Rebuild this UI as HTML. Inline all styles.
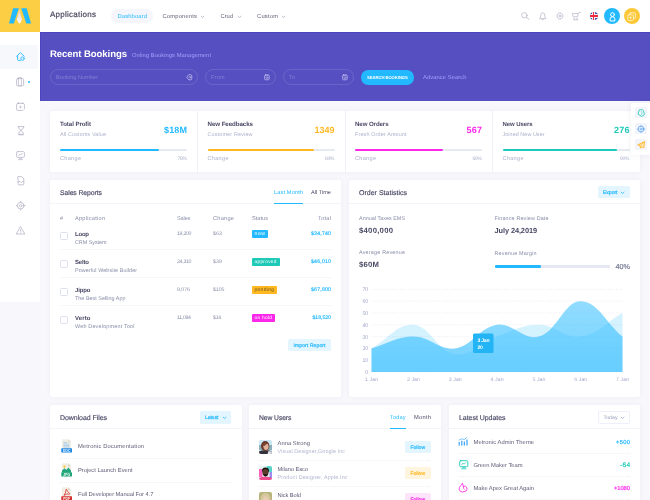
<!DOCTYPE html>
<html><head><meta charset="utf-8">
<style>
*{box-sizing:border-box;margin:0;padding:0}
html,body{width:650px;height:500px;overflow:hidden}
body{background:#f7f7fc;font-family:"Liberation Sans",sans-serif;color:#48465b;position:relative;font-size:6px}
.a{position:absolute}
.t{position:absolute;white-space:nowrap;text-rendering:geometricPrecision}
.card{position:absolute;background:#fff;border-radius:2px;box-shadow:0 0 5px rgba(82,63,105,.05)}
.hr{position:absolute;height:1px;background:#f3f4f9}
.dh{position:absolute;height:1px;background:repeating-linear-gradient(90deg,#edeff6 0 1px,transparent 1px 2px)}
.inp{position:absolute;height:16px;border:1px solid rgba(255,255,255,.12);border-radius:8px}
.bar{position:absolute;height:2.6px;border-radius:1.3px;background:#e6e8f2}
.bar i{position:absolute;left:0;top:0;height:100%;border-radius:1.3px}
.cb{position:absolute;width:7.5px;height:7.5px;border:1px solid #dfe2ee;border-radius:1.5px;background:#fff}
.bd{position:absolute;height:7.5px;border-radius:1px}
.btn{position:absolute;border-radius:1.5px}
svg{position:absolute;overflow:visible}
</style></head><body>
<!-- header -->
<div class="a" style="left:40px;top:0;width:610px;height:32px;background:#fff"></div>
<div class="a" style="left:0;top:0;width:40px;height:32px;background:#fbce44"></div>
<svg style="left:8px;top:8px" width="24" height="16" viewBox="0 0 24 16"><defs><linearGradient id="lg" x1="0" y1="0" x2="0" y2="1"><stop offset="0" stop-color="#f3cfc0"/><stop offset="0.6" stop-color="#ece8f6"/><stop offset="1" stop-color="#fdfdff"/></linearGradient></defs><polygon points="5.1,0.3 10.9,0.3 5.8,15.4 1,15.4" fill="#22b9ff"/><polygon points="13.2,0.3 18.6,0.3 23.1,15.4 18.3,15.4" fill="#22b9ff"/><polygon points="11.3,1.6 13.9,11.4 12.1,15.4 10.6,15 8.9,11.6" fill="url(#lg)"/></svg>
<!-- sidebar -->
<div class="a" style="left:0;top:32px;width:40px;height:270px;background:#fff"></div>
<div class="a" style="left:0;top:45px;width:38px;height:24px;background:#f7f8fc"></div>
<svg style="left:16px;top:52.2px" width="9" height="9" viewBox="0 0 9 9" fill="none" stroke-linecap="round" stroke-linejoin="round"><path d="M0.6 4.2 L4.4 0.7 L8.2 4.2 M1.6 3.6 V7.6 Q1.6 8.4 2.4 8.4 H4.4" stroke="#22b9ff" stroke-width="0.9"/><circle cx="6.5" cy="6.6" r="1.7" stroke="#22b9ff" stroke-width="0.9"/></svg>
<svg style="left:16px;top:77px" width="8.5" height="9.5" viewBox="0 0 8.5 9.5" fill="none" stroke-linecap="round" stroke-linejoin="round"><rect x="0.6" y="1.6" width="7" height="7.2" rx="1" stroke="#b7b5c8" stroke-width="0.8"/><rect x="2.8" y="0.5" width="2.6" height="8.3" stroke="#b7b5c8" stroke-width="0.7"/></svg>
<div class="a" style="left:27.5px;top:80.5px;width:2.6px;height:2.6px;border-radius:50%;background:#22b9ff"></div>
<svg style="left:16px;top:102px" width="9" height="9" viewBox="0 0 9 9" fill="none" stroke-linecap="round" stroke-linejoin="round"><rect x="0.6" y="1.4" width="7.8" height="7" rx="1.3" stroke="#b7b5c8" stroke-width="0.8"/><path d="M2.4 0.6V1.6M6.6 0.6V1.6" stroke="#b7b5c8" stroke-width="0.8"/><path d="M3.6 5H5.4M4.5 4.1V5.9" stroke="#b7b5c8" stroke-width="0.7"/><path d="M6.8 7.8 H8.6" stroke="#fff" stroke-width="1.2"/></svg>
<svg style="left:16.5px;top:126px" width="8" height="9.5" viewBox="0 0 8 9.5" fill="none" stroke-linecap="round" stroke-linejoin="round"><path d="M1 0.6H7M1.4 0.8Q1.4 3.2 4 4.4Q6.6 3.2 6.6 0.8M4 4.4Q1.6 5.8 1.6 8.4H6.4Q6.4 5.8 4 4.4" stroke="#b7b5c8" stroke-width="0.8"/><path d="M2 8.8H6" stroke="#b7b5c8" stroke-width="0.9"/></svg>
<svg style="left:16px;top:151px" width="9" height="9.5" viewBox="0 0 9 9.5" fill="none" stroke-linecap="round" stroke-linejoin="round"><rect x="0.6" y="0.6" width="7.8" height="5.8" rx="1" stroke="#b7b5c8" stroke-width="0.8"/><path d="M2.6 4.4L4 3.2L5 3.8L6.4 2.4" stroke="#b7b5c8" stroke-width="0.7"/><path d="M2.4 8.6H6.6M3.4 7.4H5.6" stroke="#b7b5c8" stroke-width="0.7"/></svg>
<svg style="left:16.5px;top:176px" width="8" height="9.5" viewBox="0 0 8 9.5" fill="none" stroke-linecap="round" stroke-linejoin="round"><path d="M1.2 0.6H4.6L6.8 2.8V8.2Q6.8 8.8 6.2 8.8H1.8Q1.2 8.8 1.2 8.2Z" stroke="#b7b5c8" stroke-width="0.8"/><path d="M1.2 5.6H3L3.6 6.4H4.6L5.2 5.6H6.8" stroke="#b7b5c8" stroke-width="0.7"/></svg>
<svg style="left:16px;top:201px" width="9.5" height="9.5" viewBox="0 0 9.5 9.5" fill="none" stroke-linecap="round" stroke-linejoin="round"><circle cx="4.7" cy="4.7" r="3.3" stroke="#b7b5c8" stroke-width="0.8"/><circle cx="4.7" cy="4.7" r="1.2" stroke="#b7b5c8" stroke-width="0.7"/><path d="M4.7 0.4V1.4M4.7 8V9M0.4 4.7H1.4M8 4.7H9" stroke="#b7b5c8" stroke-width="0.9"/></svg>
<svg style="left:16px;top:226px" width="9.5" height="9" viewBox="0 0 9.5 9" fill="none" stroke-linecap="round" stroke-linejoin="round"><path d="M4.7 0.8L8.8 8H0.6Z" stroke="#b7b5c8" stroke-width="0.8"/><path d="M4.7 3.4V5.6M4.7 6.6V6.8" stroke="#b7b5c8" stroke-width="0.7"/></svg>
<!-- nav pill -->
<div class="a" style="left:111px;top:9px;width:42px;height:14px;border-radius:7px;background:#f4f6fc"></div>
<svg style="left:201.4px;top:15.700000000000001px" width="3.2" height="1.8" viewBox="0 0 3.2 1.8" fill="none" stroke-linecap="round" stroke-linejoin="round"><path d="M0.2 0.2L1.6 1.5L3 0.2" stroke="#a5a3b8" stroke-width="0.7"/></svg>
<svg style="left:237.9px;top:15.700000000000001px" width="3.2" height="1.8" viewBox="0 0 3.2 1.8" fill="none" stroke-linecap="round" stroke-linejoin="round"><path d="M0.2 0.2L1.6 1.5L3 0.2" stroke="#a5a3b8" stroke-width="0.7"/></svg>
<svg style="left:281.9px;top:15.700000000000001px" width="3.2" height="1.8" viewBox="0 0 3.2 1.8" fill="none" stroke-linecap="round" stroke-linejoin="round"><path d="M0.2 0.2L1.6 1.5L3 0.2" stroke="#a5a3b8" stroke-width="0.7"/></svg>
<svg style="left:520.5px;top:12.3px" width="9" height="8" viewBox="0 0 9 8" fill="none" stroke-linecap="round" stroke-linejoin="round"><circle cx="3.4" cy="3.3" r="2.7" stroke="#b4b2c6" stroke-width="0.7"/><path d="M5.5 5.4L8 7.4" stroke="#b4b2c6" stroke-width="0.75"/></svg>
<svg style="left:538.5px;top:12px" width="7.5" height="8.5" viewBox="0 0 7.5 8.5" fill="none" stroke-linecap="round" stroke-linejoin="round"><path d="M0.8 6.4Q1.8 5.6 1.8 3.2Q1.8 0.8 3.75 0.8Q5.7 0.8 5.7 3.2Q5.7 5.6 6.7 6.4Z" stroke="#b4b2c6" stroke-width="0.7"/><path d="M3 7.6H4.5" stroke="#b4b2c6" stroke-width="0.7"/></svg>
<svg style="left:555.5px;top:12px" width="8" height="8" viewBox="0 0 8 8" fill="none" stroke-linecap="round" stroke-linejoin="round"><circle cx="4" cy="4" r="3" stroke="#b4b2c6" stroke-width="0.75" stroke-dasharray="1.6 0.5"/><circle cx="4" cy="4" r="1" stroke="#b4b2c6" stroke-width="0.7"/></svg>
<svg style="left:572px;top:12px" width="9" height="8.5" viewBox="0 0 9 8.5" fill="none" stroke-linecap="round" stroke-linejoin="round"><path d="M0.6 1.6H6.2L5.6 4.8H1.6Z" stroke="#b4b2c6" stroke-width="0.7"/><path d="M6.2 1.6L7 0.5H8.4" stroke="#b4b2c6" stroke-width="0.7"/><path d="M2.2 6V7.6M5 6V7.6M1.6 7.8H5.8" stroke="#b4b2c6" stroke-width="0.7"/></svg>
<div class="a" style="left:589.5px;top:12px;width:8px;height:8px;border-radius:50%;background:#4553a6;overflow:hidden"><div class="a" style="left:0;top:2.3px;width:8px;height:3.4px;background:#f5f0f2"></div><div class="a" style="left:2.3px;top:0;width:3.4px;height:8px;background:#f5f0f2"></div><div class="a" style="left:0;top:3.1px;width:8px;height:1.8px;background:#ec2a43"></div><div class="a" style="left:3.1px;top:0;width:1.8px;height:8px;background:#ec2a43"></div></div>
<div class="a" style="left:604px;top:8px;width:16.3px;height:16.3px;border-radius:50%;background:#22b9ff"></div>
<svg style="left:608.5px;top:11.5px" width="7" height="9.5" viewBox="0 0 7 9.5" fill="none" stroke-linecap="round" stroke-linejoin="round"><circle cx="3.5" cy="2.6" r="1.9" stroke="#fff" stroke-width="1"/><path d="M1.2 8.6V6.6Q1.2 4.8 3.5 4.8Q5.8 4.8 5.8 6.6V8.6Z" stroke="#fff" stroke-width="1"/></svg>
<div class="a" style="left:623.5px;top:8px;width:16.3px;height:16.3px;border-radius:50%;background:#fcc83a"></div>
<svg style="left:627px;top:11.5px" width="9.5" height="9.5" viewBox="0 0 9.5 9.5" fill="none" stroke-linecap="round" stroke-linejoin="round"><rect x="2.8" y="0.8" width="5.6" height="5.6" rx="1" stroke="#fff2c4" stroke-width="0.9"/><rect x="0.8" y="2.8" width="5.6" height="5.6" rx="1" stroke="#fff2c4" stroke-width="0.9" fill="#fcc83a"/><path d="M2.6 5.6H4.6M3.6 4.6V6.6" stroke="#fff2c4" stroke-width="0.7"/></svg>
<!-- purple -->
<div class="a" style="left:40px;top:32px;width:610px;height:68.5px;background:#564fc1;border-top:1px solid #4c43be;border-left:1.5px solid #4c43be"></div>
<div class="inp" style="left:50px;top:69px;width:148px"></div>
<div class="inp" style="left:205px;top:69px;width:71px"></div>
<div class="inp" style="left:283px;top:69px;width:70.5px"></div>
<div class="a" style="left:361px;top:70px;width:53px;height:14.5px;border-radius:7.25px;background:#22b9ff"></div>
<svg style="left:186px;top:74px" width="6.5" height="6.5" viewBox="0 0 6.5 6.5" fill="none" stroke-linecap="round" stroke-linejoin="round"><path d="M2.8 0.7L0.7 3.25L2.8 5.8H4.6Q5.8 5.8 5.8 4.6V1.9Q5.8 0.7 4.6 0.7Z" stroke="#c9c6f2" stroke-width="0.75"/><circle cx="3.9" cy="3.25" r="0.8" stroke="#c9c6f2" stroke-width="0.55"/></svg>
<svg style="left:264.3px;top:74.3px" width="6" height="6.4" viewBox="0 0 6 6.4" fill="none" stroke-linecap="round" stroke-linejoin="round"><rect x="0.6" y="1.1" width="4.6" height="4.7" rx="0.9" stroke="#c9c6f2" stroke-width="0.7"/><path d="M1.9 0.5V1.4M3.9 0.5V1.4" stroke="#c9c6f2" stroke-width="0.6"/><circle cx="2.9" cy="3.7" r="1" stroke="#c9c6f2" stroke-width="0.5"/></svg>
<svg style="left:342.3px;top:74.3px" width="6" height="6.4" viewBox="0 0 6 6.4" fill="none" stroke-linecap="round" stroke-linejoin="round"><rect x="0.6" y="1.1" width="4.6" height="4.7" rx="0.9" stroke="#c9c6f2" stroke-width="0.7"/><path d="M1.9 0.5V1.4M3.9 0.5V1.4" stroke="#c9c6f2" stroke-width="0.6"/><circle cx="2.9" cy="3.7" r="1" stroke="#c9c6f2" stroke-width="0.5"/></svg>

<!-- stats card -->
<div class="card" style="left:50px;top:111px;width:590px;height:61px"></div>
<div class="a" style="left:197px;top:111px;width:1px;height:61px;background:#f0f1f7"></div>
<div class="a" style="left:344.5px;top:111px;width:1px;height:61px;background:#f0f1f7"></div>
<div class="a" style="left:492px;top:111px;width:1px;height:61px;background:#f0f1f7"></div>
<div class="bar" style="left:60px;top:148.7px;width:127px"><i style="width:78%;background:#22b9ff"></i></div>
<div class="bar" style="left:207.5px;top:148.7px;width:127px"><i style="width:84%;background:#ffb822"></i></div>
<div class="bar" style="left:355px;top:148.7px;width:127px"><i style="width:69%;background:#fd27eb"></i></div>
<div class="bar" style="left:502.5px;top:148.7px;width:127px"><i style="width:90%;background:#1dc9b7"></i></div>

<!-- sales -->
<div class="card" style="left:50px;top:180px;width:291px;height:217px"></div>
<div class="hr" style="left:50px;top:203px;width:291px"></div>
<div class="a" style="left:274px;top:202.5px;width:29px;height:1px;background:#22b9ff"></div>
<div class="cb" style="left:60px;top:232.3px"></div>
<div class="cb" style="left:60px;top:260.3px"></div>
<div class="cb" style="left:60px;top:288.3px"></div>
<div class="cb" style="left:60px;top:316.3px"></div>
<div class="dh" style="left:60px;top:249px;width:271px"></div>
<div class="dh" style="left:60px;top:277px;width:271px"></div>
<div class="dh" style="left:60px;top:305px;width:271px"></div>
<div class="bd" style="left:251.5px;top:230px;width:16.5px;background:#22b9ff"></div>
<div class="bd" style="left:251.5px;top:258px;width:28px;background:#1dc9b7"></div>
<div class="bd" style="left:251.5px;top:286px;width:25.5px;background:#ffb822"></div>
<div class="bd" style="left:251.5px;top:314px;width:23.5px;background:#fd27eb"></div>
<div class="btn" style="left:288px;top:338.5px;width:43px;height:12.5px;background:#e3f5fe"></div>

<!-- order -->
<div class="card" style="left:349px;top:180px;width:291px;height:217px"></div>
<div class="hr" style="left:349px;top:203px;width:291px"></div>
<div class="btn" style="left:597.5px;top:185.5px;width:32.5px;height:12.5px;background:#e3f5fe"></div>
<div class="bar" style="left:494.5px;top:265px;width:115.5px;height:3px"><i style="width:40%;background:#22b9ff"></i></div>
<svg style="left:0;top:0" width="650" height="500" viewBox="0 0 650 500"><line x1="371.5" x2="622.5" y1="372.0" y2="372.0" stroke="#e6e6f5" stroke-width="0.8" stroke-dasharray="1 1.6"/><line x1="371.5" x2="622.5" y1="360.2" y2="360.2" stroke="#e6e6f5" stroke-width="0.8" stroke-dasharray="1 1.6"/><line x1="371.5" x2="622.5" y1="348.4" y2="348.4" stroke="#e6e6f5" stroke-width="0.8" stroke-dasharray="1 1.6"/><line x1="371.5" x2="622.5" y1="336.6" y2="336.6" stroke="#e6e6f5" stroke-width="0.8" stroke-dasharray="1 1.6"/><line x1="371.5" x2="622.5" y1="324.8" y2="324.8" stroke="#e6e6f5" stroke-width="0.8" stroke-dasharray="1 1.6"/><line x1="371.5" x2="622.5" y1="313.0" y2="313.0" stroke="#e6e6f5" stroke-width="0.8" stroke-dasharray="1 1.6"/><line x1="371.5" x2="622.5" y1="301.2" y2="301.2" stroke="#e6e6f5" stroke-width="0.8" stroke-dasharray="1 1.6"/><line x1="371.5" x2="622.5" y1="289.4" y2="289.4" stroke="#e6e6f5" stroke-width="0.8" stroke-dasharray="1 1.6"/><defs><linearGradient id="gd" gradientUnits="userSpaceOnUse" x1="0" y1="300" x2="0" y2="372"><stop offset="0" stop-color="#2ebcff" stop-opacity="0.52"/><stop offset="1" stop-color="#2ebcff" stop-opacity="0.66"/></linearGradient></defs><path d="M371.5 348.4 C388.2 339.0 397.1 323.7 413.3 324.8 C430.6 326.0 437.4 351.8 455.2 354.3 C470.9 356.5 479.9 342.6 497.0 336.6 C513.4 330.8 522.1 324.8 538.8 324.8 C555.6 324.8 564.8 338.8 580.6 336.6 C598.2 334.1 605.7 322.4 622.5 313.0 L622.5 372.0 L371.5 372.0 Z" fill="#22b9ff" fill-opacity="0.19"/><path d="M371.5 348.4 C388.2 343.7 396.6 336.6 413.3 336.6 C430.1 336.6 439.3 350.6 455.2 348.4 C472.7 345.9 479.4 327.3 497.0 324.8 C512.9 322.6 524.0 340.8 538.8 336.6 C557.5 331.3 563.9 301.2 580.6 301.2 C597.4 301.2 605.7 322.4 622.5 336.6 L622.5 372.0 L371.5 372.0 Z" fill="url(#gd)"/><rect x="473" y="333.5" width="20.5" height="19.5" rx="1.5" fill="#22b4f5"/></svg>

<!-- row3 -->
<div class="card" style="left:50px;top:405px;width:191.5px;height:110px"></div>
<div class="hr" style="left:50px;top:428px;width:191.5px"></div>
<div class="btn" style="left:199.5px;top:411px;width:31.5px;height:12.5px;background:#e3f5fe"></div>
<div class="dh" style="left:60px;top:457.5px;width:171px"></div>
<div class="dh" style="left:60px;top:481.5px;width:171px"></div>
<svg style="left:61px;top:439.2px" width="11.5" height="14" viewBox="0 0 11.5 14"><path d="M1 0.3H7.2L10 3.2V13.2H1Z" fill="#f1eee4"/><path d="M7.2 0.3L10 3.2H7.2Z" fill="#d9d5c8"/><path d="M2.4 3.4H6M2.4 5H8.4M2.4 6.6H8.4M2.4 8H8.4" stroke="#9cc4ee" stroke-width="0.8"/><rect x="0.3" y="9.2" width="10.7" height="4.3" rx="0.5" fill="#1e88e5"/><text x="5.65" y="12.6" font-family="Liberation Sans,sans-serif" font-size="3.3" font-weight="bold" fill="#fff" text-anchor="middle">DOC</text></svg>
<svg style="left:61px;top:463.3px" width="11.5" height="14" viewBox="0 0 11.5 14"><path d="M1 0.3H7.2L10 3.2V13.2H1Z" fill="#f1eee4"/><path d="M7.2 0.3L10 3.2H7.2Z" fill="#d9d5c8"/><circle cx="3.4" cy="3.6" r="1.1" fill="#fcc419"/><path d="M1 9.4V7.6L3.6 5.2L5.4 7L7.4 4.6L10 7.4V9.4Z" fill="#1fa67a"/><rect x="0.3" y="9.2" width="10.7" height="4.3" rx="0.5" fill="#1fa67a"/><text x="5.65" y="12.6" font-family="Liberation Sans,sans-serif" font-size="3.3" font-weight="bold" fill="#fff" text-anchor="middle">JPG</text></svg>
<svg style="left:61px;top:487px" width="11.5" height="14" viewBox="0 0 11.5 14"><path d="M1 0.3H7.2L10 3.2V13.2H1Z" fill="#f1eee4"/><path d="M7.2 0.3L10 3.2H7.2Z" fill="#d9d5c8"/><path d="M3 8.4Q4.8 6 5 3Q5 2 5.6 2.4Q6 4.4 8.6 6.6Q9 7.2 8.2 7.2Q5.6 6.4 3 8.4Z" fill="none" stroke="#d7322f" stroke-width="0.8"/><rect x="0.3" y="9.2" width="10.7" height="4.3" rx="0.5" fill="#d7322f"/><text x="5.65" y="12.6" font-family="Liberation Sans,sans-serif" font-size="3.3" font-weight="bold" fill="#fff" text-anchor="middle">PDF</text></svg>
<div class="card" style="left:249px;top:405px;width:192px;height:110px"></div>
<div class="hr" style="left:249px;top:428px;width:192px"></div>
<div class="a" style="left:390px;top:428px;width:15.5px;height:1px;background:#22b9ff"></div>
<div class="dh" style="left:259px;top:460px;width:172px"></div>
<div class="dh" style="left:259px;top:486px;width:172px"></div>
<div class="btn" style="left:405px;top:441px;width:25.5px;height:12px;background:#e3f5fe"></div>
<div class="btn" style="left:405px;top:467px;width:25.5px;height:12px;background:#fff4de"></div>
<div class="btn" style="left:405px;top:493px;width:25.5px;height:12px;background:#fde4fb"></div>
<svg style="left:259px;top:440px;border-radius:2px;overflow:hidden" width="13" height="14" viewBox="0 0 13 14"><rect width="13" height="14" fill="#c9e6f2"/><rect y="5" width="13" height="5" fill="#8fb0ba"/><path d="M0 14V11.5Q3 10 6.5 10.4Q10 10 13 11.5V14Z" fill="#34313b"/><path d="M8.5 14L9.5 11L13 11.5V14Z" fill="#e4e4ea"/><ellipse cx="6.2" cy="6" rx="4.2" ry="5" fill="#6a3a2b"/><ellipse cx="7" cy="6.6" rx="2.6" ry="3.4" fill="#e0b29b"/><path d="M3.6 4.6Q6 1.2 9.6 4.2Q7 3.6 5.2 6.2Z" fill="#7a4331"/></svg>
<svg style="left:259px;top:466.2px;border-radius:2px;overflow:hidden" width="13" height="14" viewBox="0 0 13 14"><rect width="13" height="14" fill="#e6f4f1"/><rect x="8" y="0" width="5" height="6" fill="#58d2c6"/><rect x="0" y="3" width="3.4" height="8" fill="#ff63bd"/><rect x="10.6" y="6" width="2.4" height="6" fill="#9a8cf0"/><path d="M0 14V12Q3 10.4 6.5 10.8Q10 10.4 13 12V14Z" fill="#ee4c8e"/><ellipse cx="6.5" cy="4.4" rx="3.4" ry="3" fill="#17120f"/><ellipse cx="6.5" cy="6.6" rx="3" ry="3.7" fill="#5c3b2d"/><path d="M3.7 7.6Q6.5 13.4 9.3 7.6Q6.5 9.6 3.7 7.6Z" fill="#17120f"/></svg>
<svg style="left:259px;top:492.2px;border-radius:2px;overflow:hidden" width="13" height="14" viewBox="0 0 13 14"><rect width="13" height="14" fill="#b7b57c"/><ellipse cx="6.5" cy="7" rx="5" ry="6" fill="#d6c79c"/><ellipse cx="6.6" cy="8" rx="2.8" ry="3.6" fill="#e8cdb2"/></svg>
<div class="card" style="left:449px;top:405px;width:191px;height:110px"></div>
<div class="hr" style="left:449px;top:428px;width:191px"></div>
<div class="btn" style="left:598px;top:411px;width:32px;height:12.5px;background:#fff;border:1px solid #edeffa"></div>
<div class="dh" style="left:459px;top:453px;width:171px"></div>
<div class="dh" style="left:459px;top:476px;width:171px"></div>
<div class="dh" style="left:459px;top:499px;width:171px"></div>
<svg style="left:458px;top:437px" width="10" height="9" viewBox="0 0 10 9" fill="none" stroke-linecap="round" stroke-linejoin="round"><path d="M1.2 8.4V5M3.8 8.4V3.8M6.4 8.4V4.6M9 8.4V2.6" stroke="#46a8f7" stroke-width="1.3" stroke-linecap="butt"/><path d="M1.2 3L3.8 1.8L6.2 2.6L8.6 0.6" stroke="#46a8f7" stroke-width="0.7"/></svg>
<svg style="left:458.5px;top:460px" width="9.5" height="9.5" viewBox="0 0 9.5 9.5" fill="none" stroke-linecap="round" stroke-linejoin="round"><rect x="0.7" y="0.7" width="8.1" height="6" rx="1" stroke="#1dc9b7" stroke-width="0.9"/><path d="M2.6 4.6L4 3.4L5.2 4L6.8 2.4" stroke="#1dc9b7" stroke-width="0.7"/><path d="M2.6 8.8H7M3.6 7.6H6" stroke="#1dc9b7" stroke-width="0.8"/></svg>
<svg style="left:458px;top:483px" width="10" height="10" viewBox="0 0 10 10" fill="none" stroke-linecap="round" stroke-linejoin="round"><path d="M4.4 0.8Q2.2 2.6 1.4 4.6Q0.6 7 2.4 8.4Q4.4 9.6 6.2 8.6Q8.6 8.6 9 6.2Q9.2 4 7.4 3.2Q6 3 5.4 4Q5.6 2 4.4 0.8Z" stroke="#fd27eb" stroke-width="0.9"/><path d="M5.4 4Q4.8 6 6.4 6.4" stroke="#fd27eb" stroke-width="0.7"/></svg>
<!-- sticky toolbar -->
<div class="a" style="left:631px;top:102.5px;width:19px;height:52px;background:#fff;border-radius:2px 0 0 2px;box-shadow:0 0 6px rgba(82,63,105,.08)"></div>
<div class="a" style="left:635px;top:106.7px;width:11.5px;height:11.6px;background:#f3f4fa;border-radius:1.5px"></div>
<div class="a" style="left:635px;top:122.7px;width:11.5px;height:11.6px;background:#f3f4fa;border-radius:1.5px"></div>
<div class="a" style="left:635px;top:138.7px;width:11.5px;height:11.6px;background:#f3f4fa;border-radius:1.5px"></div>
<svg style="left:637px;top:108.6px" width="8" height="8" viewBox="0 0 8 8" fill="none" stroke-linecap="round" stroke-linejoin="round"><path d="M3.2 0.8L0.8 4L3.2 7.2H5Q7 7.2 7 5.2V2.8Q7 0.8 5 0.8Z" stroke="#1dc9b7" stroke-width="0.75" transform="rotate(-20 4 4)"/><path d="M4.6 2.6Q6 4 4.6 5.4" stroke="#1dc9b7" stroke-width="0.55"/></svg>
<svg style="left:636.8px;top:124.5px" width="8" height="8" viewBox="0 0 8 8" fill="none" stroke-linecap="round" stroke-linejoin="round"><circle cx="4" cy="4" r="2.9" stroke="#4d9ffc" stroke-width="0.75"/><circle cx="4" cy="4" r="1" stroke="#4d9ffc" stroke-width="0.6"/><path d="M4 0.4V1.1M4 6.9V7.6M0.4 4H1.1M6.9 4H7.6" stroke="#4d9ffc" stroke-width="0.6"/></svg>
<svg style="left:637px;top:140.6px" width="8" height="8" viewBox="0 0 8 8" fill="none" stroke-linecap="round" stroke-linejoin="round"><path d="M7.2 0.8L0.8 3.8L3 4.9L3.8 7.2L4.9 5.6L6.6 6.5Z" stroke="#ffa800" stroke-width="0.7" fill="#ffe7b0"/><path d="M3 4.9L7.2 0.8" stroke="#ffa800" stroke-width="0.5"/></svg>
<svg style="left:222.9px;top:416.70000000000005px" width="3.2" height="1.8" viewBox="0 0 3.2 1.8" fill="none" stroke-linecap="round" stroke-linejoin="round"><path d="M0.2 0.2L1.6 1.5L3 0.2" stroke="#22b9ff" stroke-width="0.8"/></svg><svg style="left:620.9px;top:191.7px" width="3.2" height="1.8" viewBox="0 0 3.2 1.8" fill="none" stroke-linecap="round" stroke-linejoin="round"><path d="M0.2 0.2L1.6 1.5L3 0.2" stroke="#22b9ff" stroke-width="0.8"/></svg><svg style="left:620.9px;top:416.70000000000005px" width="3.2" height="1.8" viewBox="0 0 3.2 1.8" fill="none" stroke-linecap="round" stroke-linejoin="round"><path d="M0.2 0.2L1.6 1.5L3 0.2" stroke="#a2a6c0" stroke-width="0.8"/></svg>
<div class="t" style="font-size:8px;color:#4a4860;top:10.10px;line-height:9.20px;-webkit-text-stroke:0.2px #4a4860;letter-spacing:0.260px;left:50px;">Applications</div>
<div class="t" style="font-size:5.8px;color:#22b9ff;top:14.10px;line-height:6.67px;letter-spacing:0.143px;left:117.5px;">Dashboard</div>
<div class="t" style="font-size:5.8px;color:#615f77;top:14.10px;line-height:6.67px;letter-spacing:0.181px;left:162.5px;">Components</div>
<div class="t" style="font-size:5.8px;color:#615f77;top:14.10px;line-height:6.67px;letter-spacing:-0.026px;left:220.5px;">Crud</div>
<div class="t" style="font-size:5.8px;color:#615f77;top:14.10px;line-height:6.67px;letter-spacing:0.203px;left:257px;">Custom</div>
<div class="t" style="font-size:9.57px;color:#fff;top:49.10px;line-height:11.01px;font-weight:bold;letter-spacing:-0.077px;left:50px;">Recent Bookings</div>
<div class="t" style="font-size:5.8px;color:#a59fff;top:53.10px;line-height:6.67px;letter-spacing:0.053px;left:132px;">Onling Bookings Management</div>
<div class="t" style="font-size:5.5px;color:#847fd9;top:75.10px;line-height:6.32px;letter-spacing:0.079px;left:56px;">Booking Number</div>
<div class="t" style="font-size:5.5px;color:#847fd9;top:75.10px;line-height:6.32px;letter-spacing:0.219px;left:211px;">From</div>
<div class="t" style="font-size:5.5px;color:#847fd9;top:75.10px;line-height:6.32px;letter-spacing:0.188px;left:289px;">To</div>
<div class="t" style="font-size:4.23px;color:#fff;top:76.10px;line-height:4.86px;font-weight:bold;letter-spacing:-0.077px;left:367px;">SEARCH BOOKINGS</div>
<div class="t" style="font-size:5.8px;color:#a59fff;top:75.10px;line-height:6.67px;letter-spacing:0.073px;left:423px;">Advance Search</div>
<div class="t" style="font-size:6.14px;color:#4a4966;top:121.10px;line-height:7.06px;font-weight:bold;letter-spacing:-0.081px;left:60px;">Total Profit</div>
<div class="t" style="font-size:5.4px;color:#adb1cc;top:132.10px;line-height:6.21px;letter-spacing:0.147px;left:60px;">All Customs Value</div>
<div class="t" style="font-size:9px;color:#22b9ff;top:125.10px;line-height:10.35px;font-weight:bold;letter-spacing:0.161px;right:462.84px;">$18M</div>
<div class="t" style="font-size:5.57px;color:#adb1cc;top:156.10px;line-height:6.41px;letter-spacing:0.303px;left:60px;">Change</div>
<div class="t" style="font-size:5.0px;color:#adb1cc;top:157.10px;line-height:5.75px;letter-spacing:-0.258px;right:463.26px;">78%</div>
<div class="t" style="font-size:6.2px;color:#4a4966;top:121.10px;line-height:7.13px;font-weight:bold;letter-spacing:-0.078px;left:207.5px;">New Feedbacks</div>
<div class="t" style="font-size:5.4px;color:#adb1cc;top:132.10px;line-height:6.21px;letter-spacing:0.175px;left:207.5px;">Customer Review</div>
<div class="t" style="font-size:9px;color:#ffb822;top:125.10px;line-height:10.35px;font-weight:bold;letter-spacing:-0.010px;right:315.51px;">1349</div>
<div class="t" style="font-size:5.57px;color:#adb1cc;top:156.10px;line-height:6.41px;letter-spacing:0.303px;left:207.5px;">Change</div>
<div class="t" style="font-size:5.0px;color:#adb1cc;top:157.10px;line-height:5.75px;letter-spacing:-0.258px;right:315.76px;">84%</div>
<div class="t" style="font-size:6.11px;color:#4a4966;top:121.10px;line-height:7.03px;font-weight:bold;letter-spacing:-0.081px;left:355px;">New Orders</div>
<div class="t" style="font-size:5.4px;color:#adb1cc;top:132.10px;line-height:6.21px;letter-spacing:0.156px;left:355px;">Fresh Order Amount</div>
<div class="t" style="font-size:9px;color:#fd27eb;top:125.10px;line-height:10.35px;font-weight:bold;letter-spacing:0.234px;right:167.77px;">567</div>
<div class="t" style="font-size:5.57px;color:#adb1cc;top:156.10px;line-height:6.41px;letter-spacing:0.303px;left:355px;">Change</div>
<div class="t" style="font-size:5.0px;color:#adb1cc;top:157.10px;line-height:5.75px;letter-spacing:-0.258px;right:168.26px;">69%</div>
<div class="t" style="font-size:6.0px;color:#4a4966;top:122.10px;line-height:6.90px;font-weight:bold;letter-spacing:-0.079px;left:502.5px;">New Users</div>
<div class="t" style="font-size:5.4px;color:#adb1cc;top:132.10px;line-height:6.21px;letter-spacing:0.068px;left:502.5px;">Joined New User</div>
<div class="t" style="font-size:9px;color:#1dc9b7;top:125.10px;line-height:10.35px;font-weight:bold;letter-spacing:0.234px;right:20.27px;">276</div>
<div class="t" style="font-size:5.57px;color:#adb1cc;top:156.10px;line-height:6.41px;letter-spacing:0.303px;left:502.5px;">Change</div>
<div class="t" style="font-size:5.0px;color:#adb1cc;top:157.10px;line-height:5.75px;letter-spacing:-0.258px;right:20.76px;">90%</div>
<div class="t" style="font-size:6.84px;color:#4a4966;top:190.10px;line-height:7.87px;-webkit-text-stroke:0.15px #4a4966;letter-spacing:-0.080px;left:60px;">Sales Reports</div>
<div class="t" style="font-size:5.6px;color:#22b9ff;top:190.10px;line-height:6.44px;letter-spacing:0.146px;left:274px;">Last Month</div>
<div class="t" style="font-size:5.6px;color:#4a4966;top:190.10px;line-height:6.44px;letter-spacing:0.013px;left:311px;">All Time</div>
<div class="t" style="font-size:5.6px;color:#8a8ea9;top:216.10px;line-height:6.44px;left:60px;">#</div>
<div class="t" style="font-size:5.6px;color:#8a8ea9;top:216.10px;line-height:6.44px;letter-spacing:0.263px;left:75px;">Application</div>
<div class="t" style="font-size:5.53px;color:#8a8ea9;top:216.10px;line-height:6.36px;letter-spacing:-0.081px;left:177px;">Sales</div>
<div class="t" style="font-size:5.6px;color:#8a8ea9;top:216.10px;line-height:6.44px;letter-spacing:0.278px;left:213px;">Change</div>
<div class="t" style="font-size:5.6px;color:#8a8ea9;top:216.10px;line-height:6.44px;letter-spacing:0.028px;left:252px;">Status</div>
<div class="t" style="font-size:5.6px;color:#8a8ea9;top:216.10px;line-height:6.44px;letter-spacing:0.293px;right:318.71px;">Total</div>
<div class="t" style="font-size:6.0px;color:#4a4966;top:232.10px;line-height:6.90px;font-weight:bold;letter-spacing:-0.224px;left:75px;">Loop</div>
<div class="t" style="font-size:5.4px;color:#8a8ea9;top:240.10px;line-height:6.21px;letter-spacing:-0.028px;left:75px;">CRM System</div>
<div class="t" style="font-size:5.2px;color:#8a8ea9;top:231.10px;line-height:5.98px;letter-spacing:-0.275px;left:177px;">19,200</div>
<div class="t" style="font-size:5.2px;color:#8a8ea9;top:231.10px;line-height:5.98px;letter-spacing:0.172px;left:213px;">$63</div>
<div class="t" style="font-size:5.15px;color:#fff;top:232.10px;line-height:5.92px;letter-spacing:0.527px;left:254.5px;">new</div>
<div class="t" style="font-size:5.2px;color:#22b9ff;top:231.10px;line-height:5.98px;-webkit-text-stroke:0.15px #22b9ff;letter-spacing:0.206px;right:318.79px;">$34,740</div>
<div class="t" style="font-size:6.0px;color:#4a4966;top:260.10px;line-height:6.90px;font-weight:bold;letter-spacing:-0.168px;left:75px;">Selto</div>
<div class="t" style="font-size:5.4px;color:#8a8ea9;top:268.10px;line-height:6.21px;letter-spacing:0.082px;left:75px;">Powerful Website Builder</div>
<div class="t" style="font-size:5.2px;color:#8a8ea9;top:259.10px;line-height:5.98px;letter-spacing:-0.275px;left:177px;">24,310</div>
<div class="t" style="font-size:5.2px;color:#8a8ea9;top:259.10px;line-height:5.98px;letter-spacing:0.172px;left:213px;">$39</div>
<div class="t" style="font-size:4.78px;color:#fff;top:260.10px;line-height:5.50px;letter-spacing:0.299px;left:254.5px;">approved</div>
<div class="t" style="font-size:5.2px;color:#22b9ff;top:259.10px;line-height:5.98px;-webkit-text-stroke:0.15px #22b9ff;letter-spacing:0.206px;right:318.79px;">$46,010</div>
<div class="t" style="font-size:6.0px;color:#4a4966;top:288.10px;line-height:6.90px;font-weight:bold;letter-spacing:-0.125px;left:75px;">Jippo</div>
<div class="t" style="font-size:5.4px;color:#8a8ea9;top:296.10px;line-height:6.21px;letter-spacing:0.024px;left:75px;">The Best Selling App</div>
<div class="t" style="font-size:5.2px;color:#8a8ea9;top:287.10px;line-height:5.98px;letter-spacing:0.004px;left:177px;">9,076</div>
<div class="t" style="font-size:5.2px;color:#8a8ea9;top:287.10px;line-height:5.98px;letter-spacing:-0.016px;left:213px;">$105</div>
<div class="t" style="font-size:4.98px;color:#6b5420;top:288.10px;line-height:5.73px;letter-spacing:0.298px;left:254.5px;">pending</div>
<div class="t" style="font-size:5.2px;color:#22b9ff;top:287.10px;line-height:5.98px;-webkit-text-stroke:0.15px #22b9ff;letter-spacing:0.206px;right:318.79px;">$67,800</div>
<div class="t" style="font-size:6.0px;color:#4a4966;top:316.10px;line-height:6.90px;font-weight:bold;letter-spacing:0.121px;left:75px;">Verto</div>
<div class="t" style="font-size:5.4px;color:#8a8ea9;top:324.10px;line-height:6.21px;letter-spacing:0.208px;left:75px;">Web Development Tool</div>
<div class="t" style="font-size:5.2px;color:#8a8ea9;top:315.10px;line-height:5.98px;letter-spacing:-0.297px;left:177px;">11,094</div>
<div class="t" style="font-size:5.2px;color:#8a8ea9;top:315.10px;line-height:5.98px;letter-spacing:-0.078px;left:213px;">$16</div>
<div class="t" style="font-size:4.79px;color:#fff;top:316.10px;line-height:5.51px;letter-spacing:0.300px;left:254.5px;">on hold</div>
<div class="t" style="font-size:5.2px;color:#22b9ff;top:315.10px;line-height:5.98px;-webkit-text-stroke:0.15px #22b9ff;letter-spacing:-0.044px;right:319.04px;">$18,520</div>
<div class="t" style="font-size:5px;color:#22b9ff;top:344.10px;line-height:5.75px;-webkit-text-stroke:0.2px #22b9ff;letter-spacing:0.118px;left:293.5px;">Import Report</div>
<div class="t" style="font-size:7px;color:#4a4966;top:190.10px;line-height:8.05px;-webkit-text-stroke:0.15px #4a4966;letter-spacing:0.009px;left:359px;">Order Statistics</div>
<div class="t" style="font-size:5.17px;color:#22b9ff;top:191.10px;line-height:5.95px;-webkit-text-stroke:0.2px #22b9ff;letter-spacing:-0.083px;left:603px;">Export</div>
<div class="t" style="font-size:5.4px;color:#8a8ea9;top:216.10px;line-height:6.21px;letter-spacing:0.036px;left:359px;">Annual Taxes EMS</div>
<div class="t" style="font-size:7.7px;color:#4a4966;top:227.10px;line-height:8.85px;font-weight:bold;letter-spacing:0.275px;left:359px;">$400,000</div>
<div class="t" style="font-size:5.4px;color:#8a8ea9;top:250.10px;line-height:6.21px;letter-spacing:0.210px;left:359px;">Average Revenue</div>
<div class="t" style="font-size:7.7px;color:#4a4966;top:261.10px;line-height:8.85px;font-weight:bold;letter-spacing:0.255px;left:359px;">$60M</div>
<div class="t" style="font-size:5.4px;color:#8a8ea9;top:216.10px;line-height:6.21px;letter-spacing:0.153px;left:494.5px;">Finance Review Date</div>
<div class="t" style="font-size:7.37px;color:#4a4966;top:227.10px;line-height:8.48px;font-weight:bold;letter-spacing:-0.079px;left:494.5px;">July 24,2019</div>
<div class="t" style="font-size:5.4px;color:#8a8ea9;top:251.10px;line-height:6.21px;letter-spacing:0.188px;left:494.5px;">Revenue Margin</div>
<div class="t" style="font-size:7.2px;color:#6f7390;top:263.10px;line-height:8.28px;-webkit-text-stroke:0.15px #6f7390;letter-spacing:0.055px;right:19.95px;">40%</div>
<div class="t" style="font-size:5.3px;color:#a4a8cc;top:370.10px;line-height:6.09px;right:281.70px;">0</div>
<div class="t" style="font-size:5.3px;color:#a4a8cc;top:358.10px;line-height:6.09px;right:281.70px;">10</div>
<div class="t" style="font-size:5.3px;color:#a4a8cc;top:346.10px;line-height:6.09px;right:281.70px;">20</div>
<div class="t" style="font-size:5.3px;color:#a4a8cc;top:335.10px;line-height:6.09px;right:281.70px;">30</div>
<div class="t" style="font-size:5.3px;color:#a4a8cc;top:323.10px;line-height:6.09px;right:281.70px;">40</div>
<div class="t" style="font-size:5.3px;color:#a4a8cc;top:311.10px;line-height:6.09px;right:281.70px;">50</div>
<div class="t" style="font-size:5.3px;color:#a4a8cc;top:299.10px;line-height:6.09px;right:281.70px;">60</div>
<div class="t" style="font-size:5.3px;color:#a4a8cc;top:287.10px;line-height:6.09px;right:281.70px;">70</div>
<div class="t" style="font-size:5.2px;color:#a4a8cc;top:377.10px;line-height:5.98px;letter-spacing:0.074px;left:365.1px;">1 Jan</div>
<div class="t" style="font-size:5.2px;color:#a4a8cc;top:377.10px;line-height:5.98px;letter-spacing:0.074px;left:406.93px;">2 Jan</div>
<div class="t" style="font-size:5.2px;color:#a4a8cc;top:377.10px;line-height:5.98px;letter-spacing:0.074px;left:448.76px;">3 Jan</div>
<div class="t" style="font-size:5.2px;color:#a4a8cc;top:377.10px;line-height:5.98px;letter-spacing:0.074px;left:490.59000000000003px;">4 Jan</div>
<div class="t" style="font-size:5.2px;color:#a4a8cc;top:377.10px;line-height:5.98px;letter-spacing:0.074px;left:532.42px;">5 Jan</div>
<div class="t" style="font-size:5.2px;color:#a4a8cc;top:377.10px;line-height:5.98px;letter-spacing:0.074px;left:574.25px;">6 Jan</div>
<div class="t" style="font-size:5.2px;color:#a4a8cc;top:377.10px;line-height:5.98px;letter-spacing:0.074px;left:616.08px;">7 Jan</div>
<div class="t" style="font-size:5.1px;color:#fff;top:339.10px;line-height:5.86px;font-weight:bold;letter-spacing:-0.258px;left:477.5px;">3 Jan</div>
<div class="t" style="font-size:5.1px;color:#fff;top:346.10px;line-height:5.86px;font-weight:bold;letter-spacing:-0.272px;left:477.5px;">20</div>
<div class="t" style="font-size:7px;color:#4a4966;top:415.10px;line-height:8.05px;-webkit-text-stroke:0.15px #4a4966;letter-spacing:-0.066px;left:60px;">Download Files</div>
<div class="t" style="font-size:5.11px;color:#22b9ff;top:416.10px;line-height:5.88px;-webkit-text-stroke:0.2px #22b9ff;letter-spacing:-0.079px;left:205px;">Latest</div>
<div class="t" style="font-size:5.8px;color:#5d5b75;top:444.10px;line-height:6.67px;letter-spacing:0.150px;left:78px;">Metronic Documentation</div>
<div class="t" style="font-size:5.8px;color:#5d5b75;top:468.10px;line-height:6.67px;letter-spacing:-0.032px;left:78px;">Project Launch Event</div>
<div class="t" style="font-size:5.78px;color:#5d5b75;top:492.10px;line-height:6.65px;letter-spacing:-0.079px;left:78px;">Full Developer Manual For 4.7</div>
<div class="t" style="font-size:6.78px;color:#4a4966;top:415.10px;line-height:7.80px;-webkit-text-stroke:0.15px #4a4966;letter-spacing:-0.082px;left:259px;">New Users</div>
<div class="t" style="font-size:5.6px;color:#22b9ff;top:415.10px;line-height:6.44px;letter-spacing:0.141px;left:390px;">Today</div>
<div class="t" style="font-size:5.69px;color:#4a4966;top:415.10px;line-height:6.54px;letter-spacing:0.301px;left:414px;">Month</div>
<div class="t" style="font-size:5.8px;color:#5d5b75;top:441.10px;line-height:6.67px;letter-spacing:0.027px;left:277.5px;">Anna Strong</div>
<div class="t" style="font-size:5.4px;color:#b1b5cf;top:449.10px;line-height:6.21px;letter-spacing:0.102px;left:277.5px;">Visual Designer,Google Inc</div>
<div class="t" style="font-size:5.75px;color:#5d5b75;top:467.10px;line-height:6.61px;letter-spacing:-0.081px;left:277.5px;">Milano Esco</div>
<div class="t" style="font-size:5.4px;color:#b1b5cf;top:475.10px;line-height:6.21px;letter-spacing:0.133px;left:277.5px;">Product Designer, Apple Inc</div>
<div class="t" style="font-size:5.72px;color:#5d5b75;top:493.10px;line-height:6.58px;letter-spacing:-0.081px;left:277.5px;">Nick Bold</div>
<div class="t" style="font-size:5px;color:#22b9ff;top:446.10px;line-height:5.75px;-webkit-text-stroke:0.2px #22b9ff;letter-spacing:0.009px;left:410.5px;">Follow</div>
<div class="t" style="font-size:5px;color:#ffb822;top:472.10px;line-height:5.75px;-webkit-text-stroke:0.2px #ffb822;letter-spacing:0.009px;left:410.5px;">Follow</div>
<div class="t" style="font-size:5px;color:#fd27eb;top:498.10px;line-height:5.75px;-webkit-text-stroke:0.2px #fd27eb;letter-spacing:0.009px;left:410.5px;">Follow</div>
<div class="t" style="font-size:7px;color:#4a4966;top:415.10px;line-height:8.05px;-webkit-text-stroke:0.15px #4a4966;letter-spacing:-0.046px;left:459px;">Latest Updates</div>
<div class="t" style="font-size:5.2px;color:#9a9fbb;top:415.10px;line-height:5.98px;letter-spacing:0.039px;left:603.5px;">Today</div>
<div class="t" style="font-size:5.8px;color:#5d5b75;top:440.10px;line-height:6.67px;letter-spacing:0.053px;left:473.5px;">Metronic Admin Theme</div>
<div class="t" style="font-size:5.8px;color:#5d5b75;top:463.10px;line-height:6.67px;letter-spacing:-0.034px;left:473.5px;">Green Maker Team</div>
<div class="t" style="font-size:5.8px;color:#5d5b75;top:486.10px;line-height:6.67px;letter-spacing:-0.020px;left:473.5px;">Make Apex Great Again</div>
<div class="t" style="font-size:5.82px;color:#22b9ff;top:440.10px;line-height:6.69px;-webkit-text-stroke:0.2px #22b9ff;letter-spacing:0.297px;right:19.70px;">+500</div>
<div class="t" style="font-size:6.5px;color:#1dc9b7;top:462.10px;line-height:7.47px;-webkit-text-stroke:0.2px #1dc9b7;letter-spacing:0.298px;right:19.70px;">-64</div>
<div class="t" style="font-size:5.8px;color:#fd27eb;top:486.10px;line-height:6.67px;-webkit-text-stroke:0.2px #fd27eb;letter-spacing:-0.070px;right:20.07px;">+1080</div>
</body></html>
